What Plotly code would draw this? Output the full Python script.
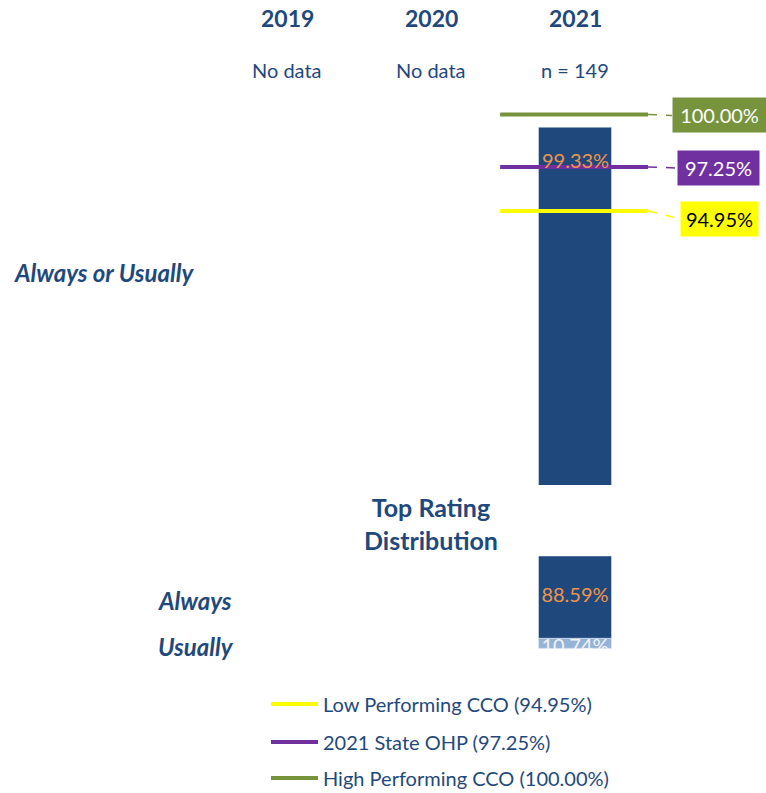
import plotly.graph_objects as go

# ---------------- data ----------------
years = ["2019", "2020", "2021"]
subtitles = ["No data", "No data", "n = 149"]
always_or_usually = [None, None, 99.33]
always = [None, None, 88.59]
usually = [None, None, 10.74]

bench_names = ["Low Performing CCO", "2021 State OHP", "High Performing CCO"]
bench_values = [94.95, 97.25, 100.00]

# ---------------- styles ----------------
W, H = 766, 793
FONT = "Lato"
NAVY = "#1F497D"
BAR = "#1F497D"
LIGHT = "#95B3D7"
ORANGE = "#F0944A"
bench_colors = ["#FFFF00", "#7030A0", "#77933C"]
bench_text_colors = ["#000000", "#FFFFFF", "#FFFFFF"]
box_widths = [71, 75, 87]
box_dy_px = [8, 1, 1]          # label box offset below its line (px)
box_left_px = [680, 677, 672]

x_pos = list(range(len(years)))
x_px0, x_step = 287, 144
x_range = [-x_px0 / x_step, (W - x_px0) / x_step]

def px_x(p):
    return (p - x_px0) / x_step

# top chart axis geometry
top_px, bot_px = 95, 485
y1_range = [80.6, 80.6 + (bot_px - top_px) / 19.1]
px_per_unit = (bot_px - top_px) / (y1_range[1] - y1_range[0])
# bottom chart axis geometry
y2_top, y2_bot = 556, 649

def pf(py):
    return 1 - py / H

fig = go.Figure()

# top bar
fig.add_trace(go.Bar(x=x_pos, y=always_or_usually, width=0.507, marker_color=BAR,
                     xaxis="x", yaxis="y", showlegend=False, hoverinfo="skip"))

# benchmark lines
idx = len(years) - 1
for name, v, c in zip(bench_names, bench_values, bench_colors):
    fig.add_trace(go.Scatter(x=[idx - 0.52, idx + 0.507], y=[v, v], mode="lines",
                             line=dict(color=c, width=4), xaxis="x", yaxis="y",
                             showlegend=False, name=name, hoverinfo="skip"))

# bottom stacked bars
fig.add_trace(go.Bar(x=x_pos, y=always, width=0.507, marker_color=BAR,
                     xaxis="x2", yaxis="y2", showlegend=False, hoverinfo="skip"))
fig.add_trace(go.Bar(x=x_pos, y=usually, width=0.507, marker_color=LIGHT,
                     base=always, xaxis="x2", yaxis="y2", showlegend=False,
                     hoverinfo="skip"))
# label for the "Always" segment
fig.add_trace(go.Scatter(x=[x for x, a in zip(x_pos, always) if a is not None],
                         y=[a / 2 for a in always if a is not None],
                         text=[f"{a:.2f}%" for a in always if a is not None],
                         mode="text", textposition="middle center",
                         textfont=dict(family=FONT, size=20, color=ORANGE),
                         cliponaxis=False, xaxis="x2", yaxis="y2",
                         showlegend=False, hoverinfo="skip"))
# clipped label for the thin "Usually" segment
fig.add_trace(go.Scatter(x=[x for x, u in zip(x_pos, usually) if u is not None],
                         y=[a for a, u in zip(always, usually) if u is not None],
                         text=[f"{u:.2f}%" for u in usually if u is not None],
                         mode="text", textposition="bottom center",
                         textfont=dict(family=FONT, size=20, color="#F2F2F2"),
                         cliponaxis=True, xaxis="x2", yaxis="y2",
                         showlegend=False, hoverinfo="skip"))

annotations = []
shapes = []

def ann(**kw):
    kw.setdefault("showarrow", False)
    kw.setdefault("yanchor", "middle")
    kw.setdefault("xanchor", "center")
    annotations.append(kw)

# year headers and subtitles
for x, yr, sub in zip(x_pos, years, subtitles):
    ann(x=x, y=pf(18), xref="x", yref="paper", text=f"<b>{yr}</b>",
        font=dict(family=FONT, size=23, color=NAVY))
    ann(x=x, y=pf(70), xref="x", yref="paper", text=sub,
        font=dict(family=FONT, size=20, color=NAVY))

# top bar value label
for x, v in zip(x_pos, always_or_usually):
    if v is not None:
        ann(x=x, y=v, xref="x", yref="y", text=f"{v:.2f}%", yshift=-33,
            font=dict(family=FONT, size=20, color=ORANGE))

# benchmark label boxes + dashed connectors
for v, c, tc, bw, dy, lp in zip(bench_values, bench_colors, bench_text_colors,
                                box_widths, box_dy_px, box_left_px):
    yv = v - dy / px_per_unit
    ann(x=px_x(lp), y=yv, xref="x", yref="y", xanchor="left",
        text=f"{v:.2f}%", bgcolor=c, width=bw, height=28, borderpad=3, align="center",
        font=dict(family=FONT, size=20, color=tc))
    shapes.append(dict(type="line", xref="x", yref="y", x0=idx + 0.507, y0=v,
                       x1=px_x(lp), y1=yv, line=dict(color=c, width=1.5, dash="dash")))

# section labels
ann(x=12 / W, y=pf(272), xref="paper", yref="paper", xanchor="left",
    text="<b><i>Always or Usually</i></b>", font=dict(family=FONT, size=24, color=NAVY))
ann(x=431 / W, y=pf(523), xref="paper", yref="paper",
    text="<b>Top Rating<br>Distribution</b>", font=dict(family=FONT, size=25, color=NAVY))
ann(x=156 / W, y=pf(600), xref="paper", yref="paper", xanchor="left",
    text="<b><i>Always</i></b>", font=dict(family=FONT, size=24, color=NAVY))
ann(x=156 / W, y=pf(646), xref="paper", yref="paper", xanchor="left",
    text="<b><i>Usually</i></b>", font=dict(family=FONT, size=24, color=NAVY))

# legend (manual)
leg_y = [704, 742, 778]
for name, v, c, ly in zip(bench_names, bench_values, bench_colors, leg_y):
    shapes.append(dict(type="line", xref="paper", yref="paper", x0=271 / W, x1=318 / W,
                       y0=pf(ly), y1=pf(ly), line=dict(color=c, width=4)))
    ann(x=321 / W, y=pf(ly), xref="paper", yref="paper", xanchor="left",
        text=f"{name} ({v:.2f}%)", font=dict(family=FONT, size=20, color=NAVY))

fig.update_layout(
    width=W, height=H,
    margin=dict(l=0, r=0, t=0, b=0),
    paper_bgcolor="white", plot_bgcolor="white",
    barmode="overlay",
    font=dict(family=FONT, color=NAVY),
    xaxis=dict(domain=[0, 1], range=x_range, visible=False, fixedrange=True, anchor="y"),
    yaxis=dict(domain=[pf(bot_px), pf(top_px)], range=y1_range, visible=False, anchor="x"),
    xaxis2=dict(domain=[0, 1], range=x_range, visible=False, matches="x", anchor="y2"),
    yaxis2=dict(domain=[pf(y2_bot), pf(y2_top)], range=[100, 0], visible=False, anchor="x2"),
    annotations=annotations,
    shapes=shapes,
)

fig.write_html("out.html")
